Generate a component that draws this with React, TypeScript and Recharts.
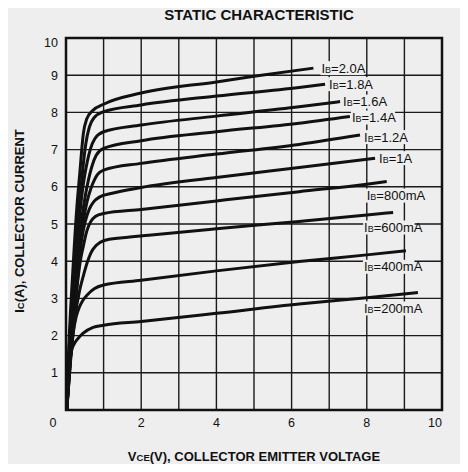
import { LineChart, Line, XAxis, YAxis, CartesianGrid, ReferenceArea, Label, LabelList } from "recharts"

const VCE_TICKS = [0, 1, 2, 3, 4, 5, 6, 7, 8, 9, 10]
const IC_TICKS = [0, 1, 2, 3, 4, 5, 6, 7, 8, 9, 10]
const IB_LABELS = ["2.0A", "1.8A", "1.6A", "1.4A", "1.2A", "1A", "800mA", "600mA", "400mA", "200mA"]

// [Vce, Ic]
const IB_2000 = [[0.02, 0], [0.06, 1.3], [0.18, 3.7], [0.3, 5.6], [0.37, 6.4], [0.41, 6.9], [0.46, 7.42], [0.55, 7.82], [0.72, 8.06], [1, 8.22], [2, 8.52], [4, 8.82], [5, 8.97], [6.58, 9.19]]
const IB_1800 = [[0.02, 0], [0.07, 1.3], [0.2, 3.6], [0.33, 5.4], [0.42, 6.2], [0.47, 6.7], [0.53, 7.18], [0.62, 7.6], [0.74, 7.85], [1, 8.02], [2, 8.2], [4, 8.44], [6.2, 8.67], [6.89, 8.76]]
const IB_1600 = [[0.02, 0], [0.08, 1.3], [0.22, 3.5], [0.36, 5.2], [0.48, 6.2], [0.56, 6.65], [0.65, 7.02], [0.77, 7.3], [1, 7.48], [2, 7.66], [4, 7.9], [6.2, 8.15], [7.29, 8.29]]
const IB_1400 = [[0.02, 0], [0.09, 1.3], [0.24, 3.4], [0.4, 5.0], [0.52, 5.8], [0.6, 6.2], [0.68, 6.52], [0.8, 6.84], [1, 7.03], [2, 7.24], [4, 7.48], [6.2, 7.71], [7.55, 7.89]]
const IB_1200 = [[0.02, 0], [0.1, 1.3], [0.26, 3.3], [0.42, 4.8], [0.56, 5.6], [0.66, 5.95], [0.74, 6.15], [0.83, 6.32], [1, 6.45], [2, 6.63], [4, 6.88], [6.2, 7.14], [7.82, 7.39]]
const IB_1000 = [[0.02, 0], [0.12, 1.4], [0.28, 3.2], [0.42, 4.6], [0.52, 5.1], [0.62, 5.4], [0.74, 5.6], [0.9, 5.73], [1.2, 5.82], [2, 5.98], [4, 6.25], [6.2, 6.52], [8.22, 6.77]]
const IB_800 = [[0.02, 0], [0.12, 1.4], [0.26, 3.0], [0.38, 4.0], [0.46, 4.4], [0.55, 4.8], [0.65, 5.05], [0.78, 5.2], [1, 5.28], [2, 5.39], [4, 5.62], [6.2, 5.87], [8, 6.07], [8.53, 6.14]]
const IB_600 = [[0.02, 0], [0.12, 1.3], [0.24, 2.5], [0.36, 3.2], [0.46, 3.6], [0.56, 3.95], [0.66, 4.22], [0.8, 4.42], [1, 4.55], [1.5, 4.63], [2.2, 4.7], [4, 4.87], [6.2, 5.07], [8, 5.24], [8.7, 5.31]]
const IB_400 = [[0.02, 0], [0.1, 1.2], [0.18, 2.0], [0.27, 2.5], [0.35, 2.75], [0.45, 2.95], [0.57, 3.1], [0.75, 3.26], [1, 3.36], [2, 3.49], [4, 3.74], [6.2, 3.99], [8, 4.17], [9.04, 4.28]]
const IB_200 = [[0.02, 0], [0.06, 0.8], [0.1, 1.3], [0.15, 1.6], [0.22, 1.78], [0.3, 1.9], [0.45, 2.06], [0.72, 2.22], [1, 2.28], [2, 2.38], [4, 2.6], [6.2, 2.85], [8, 3.02], [9.36, 3.16]]

const CURVES = [IB_2000, IB_1800, IB_1600, IB_1400, IB_1200, IB_1000, IB_800, IB_600, IB_400, IB_200]

// where each curve's tag sits, relative to the curve end (px)
const TAG_OFFSET = [[7, 0], [3, 0], [2, 0], [1, 1], [3, 2], [3, 0], [-21, 14], [-30, 15], [-43, 16], [-55, 16]]

const BG = "#eeeeee"
const INK = "#111111"
const FONT = "'Liberation Sans', Arial, sans-serif"

function XTick({ x, y, payload }: any) {
  const v = payload.value
  if (v % 2 !== 0) return null
  const dx = v === 0 ? -13 : v === 10 ? -7 : 0
  return (
    <text x={x + dx} y={y} dy="0.71em" textAnchor="middle" fontSize={12.5} fontFamily={FONT} fill={INK}>
      {v}
    </text>
  )
}

function YTick({ x, y, payload }: any) {
  const v = payload.value
  if (v === 0) return null
  return (
    <text x={x} y={y + (v === 10 ? 4 : 0)} dy="0.36em" textAnchor="end" fontSize={12.5} fontFamily={FONT} fill={INK}>
      {v}
    </text>
  )
}

function XTitle({ viewBox }: any) {
  const { x, y, width } = viewBox
  return (
    <text x={x + width / 2} y={y + 51} textAnchor="middle" fontSize={13} fontWeight={700} fontFamily={FONT} fill={INK}>
      V<tspan fontSize={9.5}>CE</tspan>(V), COLLECTOR EMITTER VOLTAGE
    </text>
  )
}

function YTitle({ viewBox }: any) {
  const { y, height } = viewBox
  const cx = 19
  const cy = y + height / 2 - 3
  return (
    <text x={cx} y={cy} dy="0.36em" textAnchor="middle" transform={`rotate(-90 ${cx} ${cy})`} fontSize={13} fontWeight={700} fontFamily={FONT} fill={INK}>
      I<tspan fontSize={9.5}>C</tspan>(A), COLLECTOR CURRENT
    </text>
  )
}

function makeTag(i: number, last: number) {
  return (props: any) => {
    if (props.index !== last) return null
    const [dx, dy] = TAG_OFFSET[i]
    const tx = props.x + dx
    const ty = props.y + dy
    const w = 15 + IB_LABELS[i].length * 7.3
    return (
      <g>
        <rect x={tx} y={ty - 7} width={w} height={14} fill={BG} />
        <text x={tx + 1} y={ty} dy="0.36em" fontSize={13} fontFamily={FONT} fill={INK}>
          I<tspan fontSize={9}>B</tspan>={IB_LABELS[i]}
        </text>
      </g>
    )
  }
}

export default function App() {
  return (
    <div style={{ position: "relative", width: 468, height: 472, margin: -8, background: BG, fontFamily: FONT }}>
      <div
        style={{
          position: "absolute",
          top: 6,
          left: 259,
          transform: "translateX(-50%)",
          fontSize: 15,
          fontWeight: 700,
          color: INK,
          whiteSpace: "nowrap",
        }}
      >
        STATIC CHARACTERISTIC
      </div>
      <LineChart width={468} height={472} margin={{ top: 38, right: 26, bottom: 2, left: 0 }}>
        <CartesianGrid stroke="#1a1a1a" strokeWidth={1.4} />
        <XAxis
          dataKey="vce"
          type="number"
          domain={[0, 10]}
          ticks={VCE_TICKS}
          interval={0}
          height={60}
          axisLine={false}
          tickLine={false}
          tick={<XTick />}
          allowDataOverflow
        >
          <Label content={<XTitle />} />
        </XAxis>
        <YAxis
          type="number"
          domain={[0, 10]}
          ticks={IC_TICKS}
          interval={0}
          width={66}
          axisLine={false}
          tickLine={false}
          tick={<YTick />}
          allowDataOverflow
        >
          <Label content={<YTitle />} />
        </YAxis>
        <ReferenceArea x1={0} x2={10} y1={0} y2={10} fill="none" stroke={INK} strokeWidth={2.5} fillOpacity={0} strokeOpacity={1} />
        {CURVES.map((pts, i) => (
          <Line
            key={IB_LABELS[i]}
            data={pts.map(([vce, ic]) => ({ vce, ic }))}
            dataKey="ic"
            type="monotone"
            stroke={INK}
            strokeWidth={3}
            dot={false}
            activeDot={false}
            isAnimationActive={false}
          >
            <LabelList dataKey="ic" content={makeTag(i, pts.length - 1)} />
          </Line>
        ))}
      </LineChart>
    </div>
  )
}
